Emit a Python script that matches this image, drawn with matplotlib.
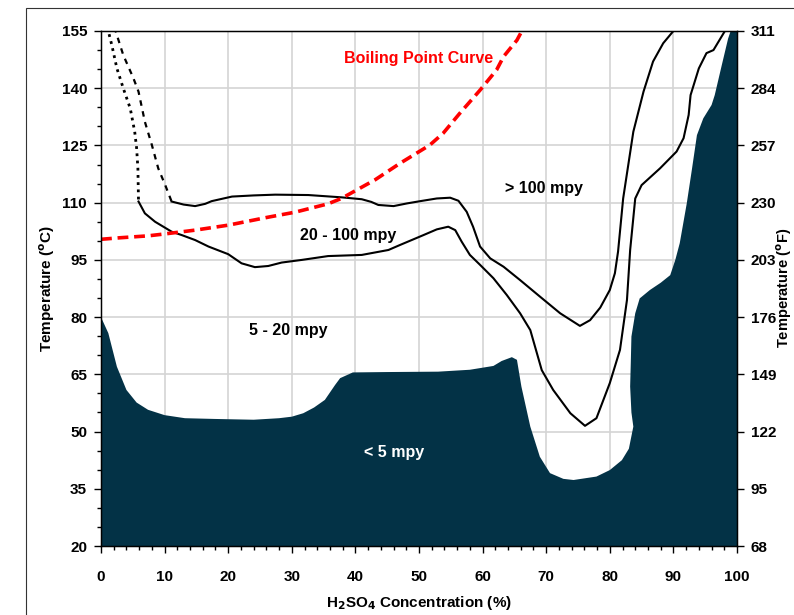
import matplotlib
matplotlib.use("Agg")
import matplotlib.pyplot as plt
from matplotlib.patches import Rectangle
from matplotlib.ticker import MultipleLocator, FixedLocator

plt.rcParams['font.family'] = ['Liberation Sans', 'DejaVu Sans']
plt.rcParams['font.weight'] = 'bold'

# ---- data ----
fill_x = [0, 1.15, 2.5, 4.0, 5.6, 7.4, 10, 13.2, 18, 24, 28, 30, 31.8, 33.5, 35.2, 36.8, 37.6,
          39.6, 45, 53, 58, 61.7, 63, 64.6, 65.4, 66.1, 67.5, 69, 70.6, 72.7, 74.3, 77.9, 80,
          81.9, 83.0, 83.7, 83.4, 83.2, 83.3, 83.4, 84.0, 84.7, 86.3, 88, 89.5, 90.3, 91, 92.1,
          92.9, 93.7, 94.7, 96.0, 96.5, 97.6, 98.6, 99.0, 100, 100, 0]
fill_y = [80, 75.8, 67, 60.9, 57.6, 55.7, 54.3, 53.5, 53.3, 53.1, 53.5, 53.9, 54.8, 56.3, 58.3,
          62.2, 64, 65.5, 65.6, 65.7, 66.2, 67.2, 68.5, 69.5, 68.8, 61.8, 51.3, 43.4, 39.1, 37.6,
          37.3, 38.2, 39.9, 42.5, 45.5, 51.3, 55, 61.8, 68, 74.9, 81, 84.9, 87.1, 89, 91, 95, 99.4,
          109.8, 118.6, 127.7, 132.1, 135.6, 138.2, 146, 153, 155, 155, 20, 20]

upper_x = [11.1, 13, 14.8, 16.4, 17.4, 20.6, 24, 27.4, 32.6, 37.8, 41.0, 42.5, 43.6, 46, 48.1,
           50.2, 52.8, 54.9, 56.2, 57.5, 58.5, 59.6, 61.2, 63.3, 65.9, 69, 72.2, 75.3, 76.9,
           78.5, 80, 80.8, 81.3, 82.1, 83.7, 85.3, 86.8, 88.4, 90]
upper_y = [110.3, 109.5, 109.1, 109.7, 110.4, 111.6, 111.9, 112.1, 112, 111.4, 110.9, 110.2,
           109.4, 109.1, 109.8, 110.4, 111.1, 111.3, 110.5, 107.6, 103.7, 98.5, 95.4, 93.2, 89.7,
           85.4, 81.0, 77.7, 79.2, 82.5, 87.1, 91.5, 97.2, 111.1, 128.6, 139.1, 147, 151.8, 155]

lower_x = [5.9, 6.9, 8.5, 11.1, 12.7, 14.8, 16.9, 20, 22.1, 24.2, 26.3, 28.4, 31.6, 35.7, 41,
           45.2, 47, 50.7, 52.8, 54.6, 55.7, 56.7, 58, 59.6, 61.7, 63.8, 65.9, 67.5, 69.3, 71.1,
           73.8, 76.1, 77.9, 80, 81.6, 82.7, 83.2, 84.0, 85.0, 87.9, 90.5, 91.6, 92.4, 92.7, 94,
           95.2, 96.3, 98.1]
lower_y = [110.3, 107.2, 105, 102.4, 101.5, 100.2, 98.5, 96.5, 94.1, 93.1, 93.4, 94.3, 95, 96,
           96.3, 97.6, 98.9, 101.5, 103, 103.7, 102.8, 99.8, 96.3, 93.7, 90.2, 85.8, 81, 76.6,
           66.1, 60.9, 54.8, 51.5, 53.5, 62.7, 71.4, 84.5, 97.6, 111.1, 114.6, 119, 123.4, 126.9,
           133, 138.2, 145.2, 149.2, 150, 155]

dot_x = [1.0, 1.7, 2.5, 3.5, 4.6, 5.3, 5.6, 5.8, 5.9]
dot_y = [156, 151.3, 145.2, 140, 134.7, 128.6, 124.3, 119, 110.3]

dash_x = [2.1, 3.5, 5.1, 5.9, 6.9, 8.0, 9.0, 10.1, 11.1]
dash_y = [156, 148.7, 142.6, 139.1, 131.2, 125.1, 119, 114.6, 110.3]

boil_x = [0, 3, 7.4, 10, 14.8, 20, 26.3, 30.5, 35.7, 37.8, 43.1, 47, 51.7, 53.8, 56.4, 59.6,
          62.2, 63.3, 65.4, 66.4]
boil_y = [100.4, 100.8, 101.3, 101.8, 102.8, 104.1, 106.2, 107.5, 109.7, 111.1, 116, 120.3,
          125.1, 128.2, 133.4, 139.5, 144.8, 148.3, 152.6, 155.7]

c_ticks = [20, 35, 50, 65, 80, 95, 110, 125, 140, 155]
f_labels = ['68', '95', '122', '149', '176', '203', '230', '257', '284', '311']
x_ticks = [0, 10, 20, 30, 40, 50, 60, 70, 80, 90, 100]

region_labels = [("> 100 mpy", 69.7, 113.6, 'black'),
                 ("20 - 100 mpy", 38.8, 101.3, 'black'),
                 ("5 - 20 mpy", 29.4, 76.4, 'black'),
                 ("< 5 mpy", 46.1, 44.4, 'white')]

# ---- figure ----
fig = plt.figure(figsize=(7.94, 6.15), dpi=100)
fig.patches.append(Rectangle((26 / 794, -0.2), 2.0, 1.2 - 8 / 615,
                             transform=fig.transFigure, fill=False,
                             edgecolor='#333333', linewidth=0.8))
ax = fig.add_axes([101 / 794, 1 - 546 / 615, 636 / 794, 515 / 615])

ax.set_xlim(0, 100)
ax.set_ylim(20, 155)
ax.set_axisbelow(True)
ax.grid(True, which='major', color='#d4d4d4', linewidth=1.2)

ax.fill(fill_x, fill_y, color='#033246', linewidth=0, zorder=2)
ax.plot(upper_x, upper_y, color='black', lw=1.5, zorder=3)
ax.plot(lower_x, lower_y, color='black', lw=1.5, zorder=3)
ax.plot(dot_x, dot_y, color='black', lw=2.0, linestyle=(0, (1, 1.6)), zorder=3)
ax.plot(dash_x, dash_y, color='black', lw=1.6, linestyle=(0, (2.5, 2.5)), zorder=3)
ax.plot(boil_x, boil_y, color='#ff0000', lw=2.6, linestyle=(0, (3, 1.6)), zorder=4)

ax.text(50, 147.9, "Boiling Point Curve", color='#ff0000', fontsize=11.5, fontweight='bold',
        ha='center', va='center')
for txt, x, y, col in region_labels:
    ax.text(x, y, txt, color=col, fontsize=11.5, fontweight='bold', ha='center', va='center',
            zorder=5)

ax.set_xticks(x_ticks)
ax.xaxis.set_minor_locator(MultipleLocator(2))
ax.set_yticks(c_ticks)
ax.yaxis.set_minor_locator(MultipleLocator(5))
ax.tick_params(axis='x', which='major', length=5, width=1, pad=12, labelsize=11)
ax.tick_params(axis='x', which='minor', length=3, width=1)
ax.tick_params(axis='y', which='major', length=5, width=1, pad=5, labelsize=11)
ax.tick_params(axis='y', which='minor', length=3, width=1)
for lab in ax.get_xticklabels() + ax.get_yticklabels():
    lab.set_fontweight('bold')
for sp in ax.spines.values():
    sp.set_linewidth(1.0)
    sp.set_zorder(6)

ax2 = ax.twinx()
ax2.set_ylim(20 * 9 / 5 + 32, 155 * 9 / 5 + 32)
ax2.yaxis.set_major_locator(FixedLocator([int(v) for v in f_labels]))
ax2.set_yticklabels(f_labels, fontweight='bold')
ax2.tick_params(axis='y', which='major', length=5, width=1, pad=5, labelsize=11)
ax2.yaxis.set_minor_locator(FixedLocator([]))

fig.text(47 / 794, 1 - 288 / 615, "Temperature ($^\\mathbf{o}$C)", rotation=90,
         ha='center', va='center', fontsize=11, fontweight='bold')
fig.text(784 / 794, 1 - 288 / 615, "Temperature ($^\\mathbf{o}$F)", rotation=90,
         ha='center', va='center', fontsize=10.5, fontweight='bold')
fig.text(419 / 794, 1 - 603 / 615, "H$_\\mathbf{2}$SO$_\\mathbf{4}$ Concentration (%)",
         ha='center', va='center', fontsize=11, fontweight='bold')

fig.savefig("out.png", dpi=100)
